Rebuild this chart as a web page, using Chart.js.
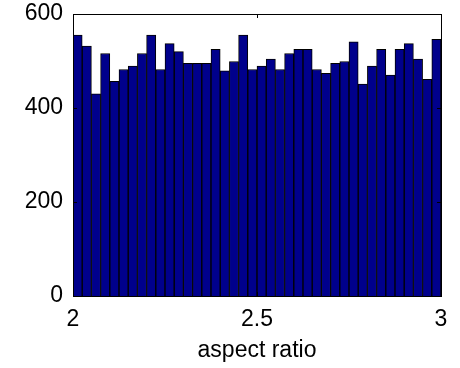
<!DOCTYPE html>
<html>
<head>
<meta charset="utf-8">
<script src="https://cdn.jsdelivr.net/npm/chart.js@4"></script>
<style>
  html, body { margin: 0; padding: 0; background: #fff; }
  #wrap { width: 460px; height: 368px; }
</style>
</head>
<body>
<div id="wrap"><canvas id="chart" width="460" height="368"></canvas></div>
<script>
// histogram of aspect ratio, 40 bins from 2 to 3
var binStart = 2;
var binWidth = 0.025;
var counts = [555, 532, 430, 516, 457, 482, 489, 516, 555, 482,
              537, 520, 495, 495, 495, 525, 479, 499, 555, 482,
              489, 504, 482, 516, 525, 525, 482, 474, 495, 499,
              541, 451, 489, 525, 470, 525, 537, 504, 461, 546];
var xTicks = [2, 2.5, 3];
var yTicks = [0, 200, 400, 600];

var points = counts.map(function (c, i) {
    return { x: binStart + binWidth * (i + 0.5), y: c };
});

// matlab style box with inward ticks
var boxPlugin = {
    id: 'box',
    afterDraw: function (chart) {
        var ctx = chart.ctx;
        var a = chart.chartArea;
        var xs = chart.scales.x, ys = chart.scales.y;
        ctx.save();
        ctx.strokeStyle = '#000';
        ctx.lineWidth = 1;
        ctx.strokeRect(Math.round(a.left) + 0.5, Math.round(a.top) + 0.5,
                       Math.round(a.right - a.left), Math.round(a.bottom - a.top));
        ctx.beginPath();
        xTicks.forEach(function (v) {
            var px = Math.round(xs.getPixelForValue(v)) + 0.5;
            ctx.moveTo(px, a.bottom); ctx.lineTo(px, a.bottom - 4);
            ctx.moveTo(px, a.top); ctx.lineTo(px, a.top + 4);
        });
        yTicks.forEach(function (v) {
            var py = Math.round(ys.getPixelForValue(v)) + 0.5;
            ctx.moveTo(a.left, py); ctx.lineTo(a.left + 4, py);
            ctx.moveTo(a.right, py); ctx.lineTo(a.right - 4, py);
        });
        ctx.stroke();
        ctx.restore();
    }
};

Chart.defaults.font.family = '"Liberation Sans", Arial, sans-serif';
Chart.defaults.color = '#000';

new Chart(document.getElementById('chart').getContext('2d'), {
    type: 'bar',
    data: {
        datasets: [{
            data: points,
            backgroundColor: 'rgb(0,0,140)',
            borderColor: '#000',
            borderWidth: 1,
            barPercentage: 1,
            categoryPercentage: 1
        }]
    },
    options: {
        responsive: false,
        animation: false,
        layout: { padding: { top: 14, right: 19, left: 0, bottom: 0 } },
        plugins: { legend: { display: false }, tooltip: { enabled: false } },
        scales: {
            x: {
                type: 'linear',
                offset: false,
                min: 2,
                max: 3,
                grid: { display: false, drawTicks: false, offset: false },
                border: { display: false },
                afterBuildTicks: function (s) { s.ticks = xTicks.map(function (v) { return { value: v }; }); },
                afterFit: function (s) { s.height = 72; s.paddingLeft = 0; s.paddingRight = 0; },
                ticks: { font: { size: 23 }, padding: 10, maxRotation: 0,
                         callback: function (v) { return String(v); } },
                title: { display: true, text: 'aspect ratio', font: { size: 23 }, padding: { top: 3 } }
            },
            y: {
                min: 0,
                max: 600,
                grid: { display: false, drawTicks: false },
                border: { display: false },
                afterBuildTicks: function (s) { s.ticks = yTicks.map(function (v) { return { value: v }; }); },
                afterFit: function (s) { s.width = 73; s.paddingTop = 0; s.paddingBottom = 0; },
                ticks: { font: { size: 23 }, padding: 10 }
            }
        }
    },
    plugins: [boxPlugin]
});
</script>
</body>
</html>
